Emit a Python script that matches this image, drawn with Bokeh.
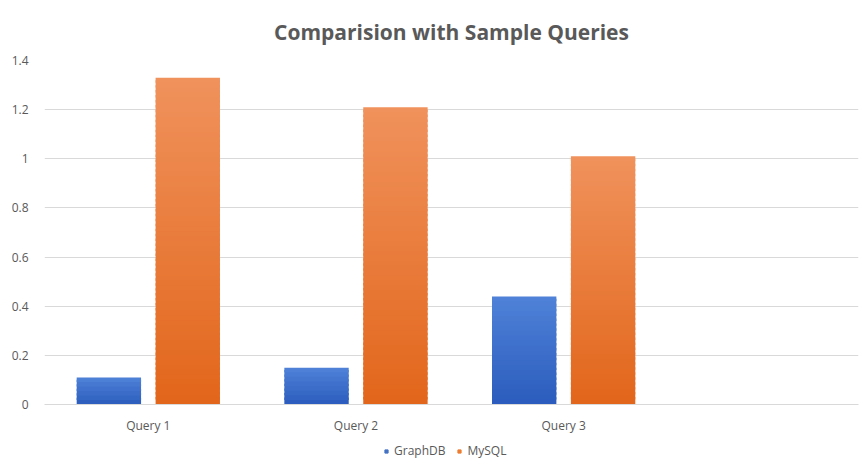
from bokeh.plotting import figure
from bokeh.models import Range1d, FixedTicker, Legend, LegendItem, ColumnDataSource
from bokeh.layouts import column
from bokeh.embed import file_html
from bokeh.resources import INLINE

categories = ["Query 1", "Query 2", "Query 3"]
graphdb = [0.11, 0.15, 0.44]
mysql = [1.33, 1.21, 1.01]
series_names = ["GraphDB", "MySQL"]
series_colors = ["#4472c4", "#ed7d31"]
y_ticks = [0, 0.2, 0.4, 0.6, 0.8, 1.0, 1.2, 1.4]
y_labels = ["0", "0.2", "0.4", "0.6", "0.8", "1", "1.2", "1.4"]

FONT = "Open Sans"
GREY = "#595959"

p = figure(width=859, height=436, output_backend="svg", toolbar_location=None,
           x_range=Range1d(0, 3.92), y_range=Range1d(0, 1.4),
           min_border_left=44, min_border_right=1, min_border_top=20, min_border_bottom=32)

p.title.text = "Comparision with Sample Queries"
p.title.align = "center"
p.title.text_font = FONT
p.title.text_font_size = "21px"
p.title.text_font_style = "bold"
p.title.text_color = GREY
p.title.offset = 0
p.title.standoff = 30

def lerp(c1, c2, t):
    a = [int(c1[i:i+2], 16) for i in (1, 3, 5)]
    b = [int(c2[i:i+2], 16) for i in (1, 3, 5)]
    return "#%02x%02x%02x" % tuple(round(a[k] + (b[k] - a[k]) * t) for k in range(3))

for vals, off, ctop, cbot in [(graphdb, -0.19, "#4f82d8", "#2b5cbd"),
                             (mysql, 0.19, "#f0925c", "#e2661b")]:
    xs, tops, bots, cols = [], [], [], []
    for i, v in enumerate(vals):
        n = max(5, round(v / 0.02))
        for k in range(n):
            xs.append(i + 0.5 + off)
            bots.append(v * k / n)
            tops.append(min(v, v * (k + 1.5) / n))
            cols.append(lerp(cbot, ctop, (k + 0.5) / n))
    src = ColumnDataSource(dict(x=xs, top=tops, bottom=bots, color=cols))
    p.vbar(x="x", top="top", bottom="bottom", width=0.31, source=src,
           fill_color="color", line_color=None)

p.xgrid.visible = False
p.ygrid.grid_line_color = "#d9d9d9"
p.ygrid.ticker = FixedTicker(ticks=y_ticks)

p.yaxis.ticker = FixedTicker(ticks=y_ticks)
p.yaxis.major_label_overrides = {t: l for t, l in zip(y_ticks, y_labels)}
p.yaxis.axis_line_color = None
p.yaxis.major_tick_line_color = None
p.yaxis.minor_tick_line_color = None
p.yaxis.major_label_standoff = 10

p.xaxis.ticker = FixedTicker(ticks=[i + 0.5 for i in range(len(categories))])
p.xaxis.major_label_overrides = {i + 0.5: c for i, c in enumerate(categories)}
p.xaxis.axis_line_color = "#d9d9d9"
p.xaxis.major_tick_line_color = None
p.xaxis.minor_tick_line_color = None
p.xaxis.major_label_standoff = 6

for ax in (p.xaxis, p.yaxis):
    ax.major_label_text_font = FONT
    ax.major_label_text_font_size = "12px"
    ax.major_label_text_color = GREY

p.outline_line_color = None

# separate strip holding the legend
lg = figure(width=859, height=23, output_backend="svg", toolbar_location=None,
            x_range=Range1d(0, 1), y_range=Range1d(0, 1),
            min_border=0, min_border_left=0, min_border_right=0,
            min_border_top=0, min_border_bottom=0)
lg.axis.visible = False
lg.grid.visible = False
lg.outline_line_color = None
lr = [lg.scatter(x=[-10], y=[-10], marker="square", size=9, color=c) for c in series_colors]
legend = Legend(items=[LegendItem(label=n, renderers=[r]) for n, r in zip(series_names, lr)],
                orientation="horizontal", location=(338, 0),
                label_text_font=FONT, label_text_font_size="12px", label_text_color=GREY,
                label_height=14, glyph_width=8, glyph_height=8, spacing=10, padding=0, margin=0,
                label_standoff=4, border_line_color=None, background_fill_alpha=0)
lg.add_layout(legend)

layout = column(p, lg, spacing=0)
open("out.html", "w").write(file_html(layout, INLINE))
